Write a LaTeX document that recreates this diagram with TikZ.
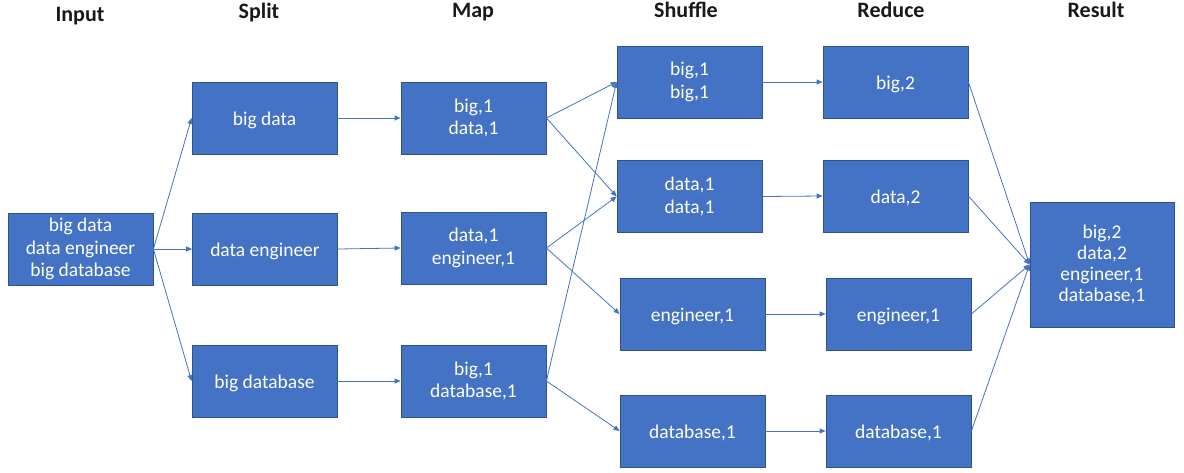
\documentclass[tikz,border=0pt]{standalone}
\usepackage{fontspec}
\setmainfont{Carlito}
\usetikzlibrary{arrows.meta}
\definecolor{boxblue}{HTML}{4472C4}
\definecolor{boxedge}{HTML}{2F528F}
\begin{document}
\begin{tikzpicture}[x=1pt, y=-1pt,
	box/.style={draw=boxedge, line width=0.8pt, fill=boxblue, text=white, minimum width=145pt, minimum height=72pt, inner sep=0pt, align=center, font=\fontsize{19.5}{22.5}\selectfont, execute at begin node={\rule{0pt}{18pt}}},
	head/.style={anchor=base, text=black!90, font=\fontsize{22}{24}\selectfont\bfseries},
	link/.style={-{Triangle[length=6pt,width=5pt]}, boxblue, line width=0.8pt}]
\useasboundingbox (0,0) rectangle (1184,472);
% column titles
\foreach \t/\x/\y in {Input/80/21, Split/259/18, Map/473/17, Shuffle/686/17, Reduce/891/17, Result/1096/17}
	\node[head] (h\t) at (\x,\y) {\t};
% boxes
\node[box] (in) at (80.5,249) {big data\\data engineer\\big database};
\node[box] (s1) at (264.5,118) {big data};
\node[box] (s2) at (265,249) {data engineer};
\node[box] (s3) at (264.5,381) {big database};
\node[box] (m1) at (473.5,118) {big,1\\data,1};
\node[box] (m2) at (473.5,248) {data,1\\engineer,1};
\node[box] (m3) at (473.5,381) {big,1\\database,1};
\node[box] (sh1) at (689.5,82) {big,1\\big,1};
\node[box] (sh2) at (689.5,196.5) {data,1\\data,1};
\node[box] (sh3) at (692.5,314) {engineer,1};
\node[box] (sh4) at (692.5,431) {database,1};
\node[box] (r1) at (895.5,82) {big,2};
\node[box] (r2) at (895.5,196) {data,2};
\node[box] (r3) at (898.5,314) {engineer,1};
\node[box] (r4) at (898.5,431) {database,1};
\node[box, minimum width=144pt, minimum height=125pt, font=\fontsize{19.5}{21}\selectfont] (res) at (1102,264.5) {big,2\\data,2\\engineer,1\\database,1};
% connectors
\foreach \a/\b in {in/s1, in/s2, in/s3, s1/m1, s2/m2, s3/m3, m1/sh1, m1/sh2, m2/sh2, m2/sh3, m3/sh1, m3/sh4, sh1/r1, sh2/r2, sh3/r3, sh4/r4, r1/res, r2/res, r3/res, r4/res}
	\draw[link] (\a.east) -- (\b.west);
\end{tikzpicture}
\end{document}
